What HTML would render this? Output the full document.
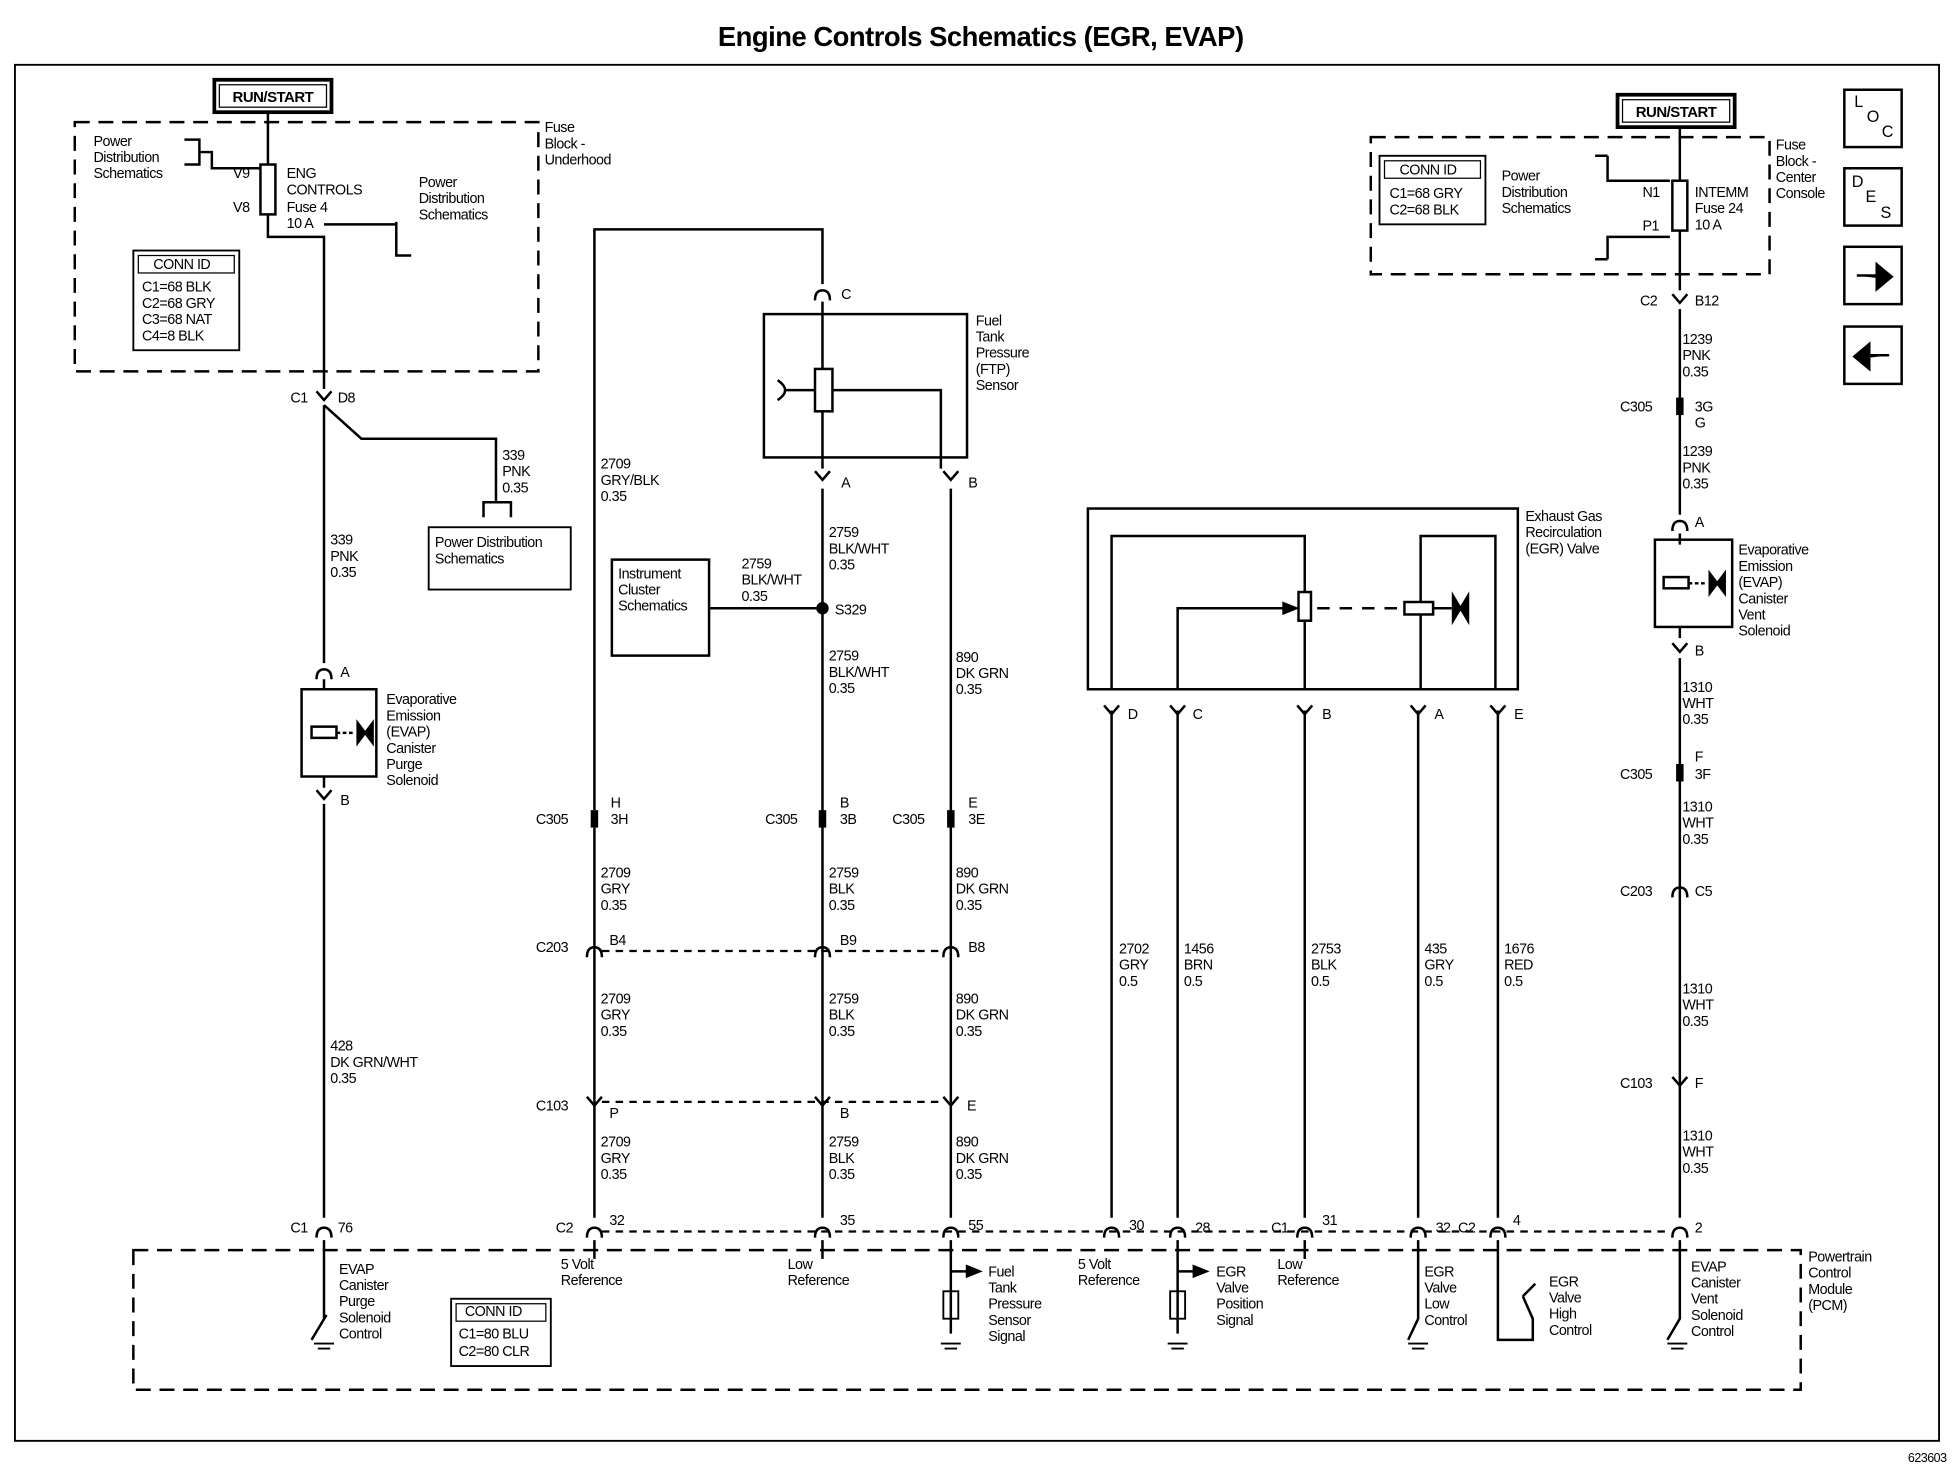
<!DOCTYPE html>
<html><head><meta charset="utf-8"><style>
html,body{margin:0;padding:0;background:#fff;}
svg{display:block;}
text{font-family:"Liberation Sans",Arial,sans-serif;font-size:11.5px;fill:#000;letter-spacing:-0.4px;}
.b{font-weight:bold;}
</style></head><body>
<svg width="1954" height="1472" viewBox="0 0 1568 1181" preserveAspectRatio="none" xmlns="http://www.w3.org/2000/svg">
<defs>
<g id="cn"><path d="M-6,5 Q-6,-3 0,-3 Q6,-3 6,5" fill="none" stroke="#000" stroke-width="2"/></g>
<g id="cv"><path d="M-6,-4 L0,3 L6,-4" fill="none" stroke="#000" stroke-width="2"/></g>
<g id="ib"><rect x="-3" y="-7" width="6" height="14" fill="#000"/></g>
</defs>
<g fill="none" stroke="#000" stroke-width="2">
<rect x="12" y="52" width="1544" height="1104" stroke-width="1.5"/>
<rect x="172" y="64" width="94" height="26" stroke-width="3"/>
<rect x="176" y="68" width="86" height="18" stroke-width="1"/>
<rect x="60" y="98" width="372" height="200" stroke-dasharray="12,7"/>
<path d="M215,90 V132 M215,172 V190 H260 V312"/>
<rect x="209" y="132" width="12" height="40"/>
<path d="M148,112 H160 V132 H148 M160,122 H170 V135 H209 M260,180 H318 M318,178 V205 H330"/>
<rect x="107" y="201" width="85" height="80" stroke-width="1.5"/>
<rect x="111" y="205" width="77" height="14" stroke-width="1"/>
<path d="M260,325 L290,352 H398 V403 M388,415 V403 H410 V415 M260,325 V532"/>
<rect x="344" y="423" width="114" height="50" stroke-width="1.5"/>
<rect x="242" y="553" width="60" height="70" stroke-width="2"/>
<path d="M260,545 V553 M260,623 V632 M260,645 V977"/>
<rect x="250" y="583" width="20" height="9"/>
<path d="M270,588 H283" stroke-dasharray="3,2"/>
<path d="M287,580 L299,596 V580 L287,596 Z" fill="#000"/>
<path d="M477,650 V184 H660 V228 M477,664 V977"/>
<rect x="613" y="252" width="163" height="115" stroke-width="2"/>
<path d="M660,242 V296 M660,330 V376 M668,313 H755 V376 M624,305 Q636,313 624,321 M630,313 H654"/>
<rect x="654" y="296" width="14" height="34"/>
<path d="M660,392 V977 M763,392 V977"/>
<rect x="491" y="449" width="78" height="77" stroke-width="2"/>
<path d="M569,488 H660"/>
<path d="M483,763 H757 M483,884 H757 M483,988 H1340" stroke-dasharray="6,5" stroke-width="1.8"/>
<rect x="873" y="408" width="345" height="145" stroke-width="2"/>
<path d="M892,553 V430 H1047 V475 M1047,498 V553 M945,553 V488 H1035 M1140,553 V493 M1140,483 V430 H1200 V553"/>
<path d="M1030,484 L1040,488 L1030,492 Z" fill="#000"/>
<rect x="1042" y="475" width="10" height="23"/>
<path d="M1057,488 H1125" stroke-dasharray="10,8"/>
<rect x="1127" y="483" width="23" height="10"/>
<path d="M1150,488 H1165"/>
<path d="M1166,478 L1178,498 V478 L1166,498 Z" fill="#000"/>
<path d="M892,570 V977 M945,570 V977 M1047,570 V977 M1138,570 V977 M1202,570 V977"/>
<rect x="1298" y="76" width="94" height="26" stroke-width="3"/>
<rect x="1302" y="80" width="86" height="18" stroke-width="1"/>
<rect x="1100" y="110" width="320" height="110" stroke-dasharray="12,7"/>
<rect x="1107" y="125" width="85" height="55" stroke-width="1.5"/>
<rect x="1111" y="129" width="77" height="14" stroke-width="1"/>
<path d="M1348,102 V145 M1348,185 V233 M1290,125 V145 H1340 M1290,208 V190 H1340 M1280,208 H1290 M1280,125 H1290"/>
<rect x="1342" y="145" width="12" height="40"/>
<path d="M1348,248 V413 M1348,428 V437 M1348,503 V512 M1348,528 V977"/>
<rect x="1328" y="433" width="62" height="70" stroke-width="2"/>
<rect x="1335" y="463" width="20" height="9"/>
<path d="M1355,468 H1368" stroke-dasharray="3,2"/>
<path d="M1372,460 L1384,476 V460 L1372,476 Z" fill="#000"/>
<rect x="1480" y="72" width="46" height="46" stroke-width="2"/>
<rect x="1480" y="135" width="46" height="46" stroke-width="2"/>
<rect x="1480" y="198" width="46" height="46" stroke-width="2"/>
<rect x="1480" y="262" width="46" height="46" stroke-width="2"/>
<path d="M1490,221 H1506 V212 L1518,222 L1506,232 V223" fill="#000"/>
<path d="M1516,285 H1500 V276 L1488,286 L1500,296 V287" fill="#000"/>
<rect x="107" y="1003" width="1338" height="112" stroke-dasharray="12,7"/>
<path d="M260,995 V1058"/>
<path d="M250,1075 L262,1055"/>
<path d="M477,995 V1010 M660,995 V1010 M763,995 V1070 M763,1020 H778 M945,995 V1070 M945,1020 H960 M1047,995 V1010 M1138,995 V1058 L1130,1075 M1202,995 V1075 H1230 V1058 L1222,1040 M1348,995 V1058 L1338,1075"/>
<rect x="757" y="1036" width="12" height="22" stroke-width="1.5"/>
<rect x="939" y="1036" width="12" height="22" stroke-width="1.5"/>
<path d="M776,1016 L786,1020 L776,1024 Z M958,1016 L968,1020 L958,1024 Z M1222,1040 L1232,1030" fill="#000"/>
<rect x="362" y="1042" width="80" height="54" stroke-width="1.5"/>
<rect x="366" y="1046" width="72" height="14" stroke-width="1"/>
<path d="M252,1078 H268 M255,1082 H265 M755,1078 H771 M758,1082 H768 M937,1078 H953 M940,1082 H950 M1130,1078 H1146 M1133,1082 H1143 M1338,1078 H1354 M1341,1082 H1351" stroke-width="1.5"/>
</g>
<use href="#cv" x="260" y="318"/>
<use href="#cn" x="260" y="540"/><use href="#cv" x="260" y="638"/>
<use href="#cn" x="260" y="988"/>
<use href="#cn" x="660" y="236"/><use href="#cv" x="660" y="382"/><use href="#cv" x="763" y="382"/>
<use href="#ib" x="477" y="657"/><use href="#ib" x="660" y="657"/><use href="#ib" x="763" y="657"/>
<use href="#cn" x="477" y="763"/><use href="#cn" x="660" y="763"/><use href="#cn" x="763" y="763"/>
<use href="#cv" x="477" y="884"/><use href="#cv" x="660" y="884"/><use href="#cv" x="763" y="884"/>
<use href="#cn" x="477" y="988"/><use href="#cn" x="660" y="988"/><use href="#cn" x="763" y="988"/>
<use href="#cv" x="892" y="570"/><use href="#cv" x="945" y="570"/><use href="#cv" x="1047" y="570"/><use href="#cv" x="1138" y="570"/><use href="#cv" x="1202" y="570"/>
<use href="#cn" x="892" y="988"/><use href="#cn" x="945" y="988"/><use href="#cn" x="1047" y="988"/><use href="#cn" x="1138" y="988"/><use href="#cn" x="1202" y="988"/><use href="#cn" x="1348" y="988"/>
<use href="#cv" x="1348" y="240"/><use href="#ib" x="1348" y="326"/><use href="#cn" x="1348" y="421"/><use href="#cv" x="1348" y="520"/>
<use href="#ib" x="1348" y="620"/><use href="#cn" x="1348" y="715"/><use href="#cv" x="1348" y="868"/>
<circle cx="660" cy="488" r="5" fill="#000"/>
<text x="787" y="37" text-anchor="middle" class="b" style="font-size:22px">Engine Controls Schematics (EGR, EVAP)</text>
<text x="1562" y="1173" text-anchor="end" style="font-size:10px">623603</text>
<text x="219" y="82" text-anchor="middle" class="b" style="font-size:12px">RUN/START</text>
<text x="1345" y="94" text-anchor="middle" class="b" style="font-size:12px">RUN/START</text>
<text x="437" y="106">Fuse</text><text x="437" y="119">Block -</text><text x="437" y="132">Underhood</text>
<text x="75" y="117">Power</text><text x="75" y="130">Distribution</text><text x="75" y="143">Schematics</text>
<text x="187" y="143">V9</text><text x="187" y="170">V8</text>
<text x="230" y="143">ENG</text><text x="230" y="156">CONTROLS</text><text x="230" y="170">Fuse 4</text><text x="230" y="183">10 A</text>
<text x="336" y="150">Power</text><text x="336" y="163">Distribution</text><text x="336" y="176">Schematics</text>
<text x="123" y="216">CONN ID</text>
<text x="114" y="234">C1=68 BLK</text><text x="114" y="247">C2=68 GRY</text><text x="114" y="260">C3=68 NAT</text><text x="114" y="273">C4=8 BLK</text>
<text x="233" y="323">C1</text><text x="271" y="323">D8</text>
<text x="403" y="369">339</text><text x="403" y="382">PNK</text><text x="403" y="395">0.35</text>
<text x="349" y="439">Power Distribution</text><text x="349" y="452">Schematics</text>
<text x="265" y="437">339</text><text x="265" y="450">PNK</text><text x="265" y="463">0.35</text>
<text x="273" y="543">A</text><text x="273" y="646">B</text>
<text x="310" y="565">Evaporative</text><text x="310" y="578">Emission</text><text x="310" y="591">(EVAP)</text><text x="310" y="604">Canister</text><text x="310" y="617">Purge</text><text x="310" y="630">Solenoid</text>
<text x="265" y="843">428</text><text x="265" y="856">DK GRN/WHT</text><text x="265" y="869">0.35</text>
<text x="233" y="989">C1</text><text x="271" y="989">76</text>
<text x="482" y="376">2709</text><text x="482" y="389">GRY/BLK</text><text x="482" y="402">0.35</text>
<text x="675" y="240">C</text><text x="675" y="391">A</text><text x="777" y="391">B</text>
<text x="783" y="261">Fuel</text><text x="783" y="274">Tank</text><text x="783" y="287">Pressure</text><text x="783" y="300">(FTP)</text><text x="783" y="313">Sensor</text>
<text x="665" y="431">2759</text><text x="665" y="444">BLK/WHT</text><text x="665" y="457">0.35</text>
<text x="595" y="456">2759</text><text x="595" y="469">BLK/WHT</text><text x="595" y="482">0.35</text>
<text x="496" y="464">Instrument</text><text x="496" y="477">Cluster</text><text x="496" y="490">Schematics</text>
<text x="670" y="493">S329</text>
<text x="665" y="530">2759</text><text x="665" y="543">BLK/WHT</text><text x="665" y="556">0.35</text>
<text x="767" y="531">890</text><text x="767" y="544">DK GRN</text><text x="767" y="557">0.35</text>
<text x="430" y="661">C305</text><text x="490" y="648">H</text><text x="490" y="661">3H</text>
<text x="614" y="661">C305</text><text x="674" y="648">B</text><text x="674" y="661">3B</text>
<text x="716" y="661">C305</text><text x="777" y="648">E</text><text x="777" y="661">3E</text>
<text x="482" y="704">2709</text><text x="482" y="717">GRY</text><text x="482" y="730">0.35</text>
<text x="665" y="704">2759</text><text x="665" y="717">BLK</text><text x="665" y="730">0.35</text>
<text x="767" y="704">890</text><text x="767" y="717">DK GRN</text><text x="767" y="730">0.35</text>
<text x="430" y="764">C203</text><text x="489" y="758">B4</text><text x="674" y="758">B9</text><text x="777" y="764">B8</text>
<text x="482" y="805">2709</text><text x="482" y="818">GRY</text><text x="482" y="831">0.35</text>
<text x="665" y="805">2759</text><text x="665" y="818">BLK</text><text x="665" y="831">0.35</text>
<text x="767" y="805">890</text><text x="767" y="818">DK GRN</text><text x="767" y="831">0.35</text>
<text x="430" y="891">C103</text><text x="489" y="897">P</text><text x="674" y="897">B</text><text x="776" y="891">E</text>
<text x="482" y="920">2709</text><text x="482" y="933">GRY</text><text x="482" y="946">0.35</text>
<text x="665" y="920">2759</text><text x="665" y="933">BLK</text><text x="665" y="946">0.35</text>
<text x="767" y="920">890</text><text x="767" y="933">DK GRN</text><text x="767" y="946">0.35</text>
<text x="446" y="989">C2</text><text x="489" y="983">32</text><text x="674" y="983">35</text><text x="777" y="987">55</text>
<text x="906" y="987">30</text><text x="959" y="989">28</text><text x="1020" y="989">C1</text><text x="1061" y="983">31</text>
<text x="1152" y="989">32</text><text x="1170" y="989">C2</text><text x="1214" y="983">4</text><text x="1360" y="989">2</text>
<text x="1224" y="418">Exhaust Gas</text><text x="1224" y="431">Recirculation</text><text x="1224" y="444">(EGR) Valve</text>
<text x="905" y="577">D</text><text x="957" y="577">C</text><text x="1061" y="577">B</text><text x="1151" y="577">A</text><text x="1215" y="577">E</text>
<text x="898" y="765">2702</text><text x="898" y="778">GRY</text><text x="898" y="791">0.5</text>
<text x="950" y="765">1456</text><text x="950" y="778">BRN</text><text x="950" y="791">0.5</text>
<text x="1052" y="765">2753</text><text x="1052" y="778">BLK</text><text x="1052" y="791">0.5</text>
<text x="1143" y="765">435</text><text x="1143" y="778">GRY</text><text x="1143" y="791">0.5</text>
<text x="1207" y="765">1676</text><text x="1207" y="778">RED</text><text x="1207" y="791">0.5</text>
<text x="1425" y="120">Fuse</text><text x="1425" y="133">Block -</text><text x="1425" y="146">Center</text><text x="1425" y="159">Console</text>
<text x="1123" y="140">CONN ID</text><text x="1115" y="159">C1=68 GRY</text><text x="1115" y="172">C2=68 BLK</text>
<text x="1205" y="145">Power</text><text x="1205" y="158">Distribution</text><text x="1205" y="171">Schematics</text>
<text x="1318" y="158">N1</text><text x="1318" y="185">P1</text>
<text x="1360" y="158">INTEMM</text><text x="1360" y="171">Fuse 24</text><text x="1360" y="184">10 A</text>
<text x="1316" y="245">C2</text><text x="1360" y="245">B12</text>
<text x="1350" y="276">1239</text><text x="1350" y="289">PNK</text><text x="1350" y="302">0.35</text>
<text x="1300" y="330">C305</text><text x="1360" y="330">3G</text><text x="1360" y="343">G</text>
<text x="1350" y="366">1239</text><text x="1350" y="379">PNK</text><text x="1350" y="392">0.35</text>
<text x="1360" y="423">A</text><text x="1360" y="526">B</text>
<text x="1395" y="445">Evaporative</text><text x="1395" y="458">Emission</text><text x="1395" y="471">(EVAP)</text><text x="1395" y="484">Canister</text><text x="1395" y="497">Vent</text><text x="1395" y="510">Solenoid</text>
<text x="1350" y="555">1310</text><text x="1350" y="568">WHT</text><text x="1350" y="581">0.35</text>
<text x="1300" y="625">C305</text><text x="1360" y="611">F</text><text x="1360" y="625">3F</text>
<text x="1350" y="651">1310</text><text x="1350" y="664">WHT</text><text x="1350" y="677">0.35</text>
<text x="1300" y="719">C203</text><text x="1360" y="719">C5</text>
<text x="1350" y="797">1310</text><text x="1350" y="810">WHT</text><text x="1350" y="823">0.35</text>
<text x="1300" y="873">C103</text><text x="1360" y="873">F</text>
<text x="1350" y="915">1310</text><text x="1350" y="928">WHT</text><text x="1350" y="941">0.35</text>
<text x="1451" y="1012">Powertrain</text><text x="1451" y="1025">Control</text><text x="1451" y="1038">Module</text><text x="1451" y="1051">(PCM)</text>
<text x="272" y="1022">EVAP</text><text x="272" y="1035">Canister</text><text x="272" y="1048">Purge</text><text x="272" y="1061">Solenoid</text><text x="272" y="1074">Control</text>
<text x="373" y="1056">CONN ID</text><text x="368" y="1074">C1=80 BLU</text><text x="368" y="1088">C2=80 CLR</text>
<text x="450" y="1018">5 Volt</text><text x="450" y="1031">Reference</text>
<text x="632" y="1018">Low</text><text x="632" y="1031">Reference</text>
<text x="793" y="1024">Fuel</text><text x="793" y="1037">Tank</text><text x="793" y="1050">Pressure</text><text x="793" y="1063">Sensor</text><text x="793" y="1076">Signal</text>
<text x="865" y="1018">5 Volt</text><text x="865" y="1031">Reference</text>
<text x="976" y="1024">EGR</text><text x="976" y="1037">Valve</text><text x="976" y="1050">Position</text><text x="976" y="1063">Signal</text>
<text x="1025" y="1018">Low</text><text x="1025" y="1031">Reference</text>
<text x="1143" y="1024">EGR</text><text x="1143" y="1037">Valve</text><text x="1143" y="1050">Low</text><text x="1143" y="1063">Control</text>
<text x="1243" y="1032">EGR</text><text x="1243" y="1045">Valve</text><text x="1243" y="1058">High</text><text x="1243" y="1071">Control</text>
<text x="1357" y="1020">EVAP</text><text x="1357" y="1033">Canister</text><text x="1357" y="1046">Vent</text><text x="1357" y="1059">Solenoid</text><text x="1357" y="1072">Control</text>
<text x="1488" y="86" style="font-size:13px">L</text><text x="1498" y="98" style="font-size:13px">O</text><text x="1510" y="110" style="font-size:13px">C</text>
<text x="1486" y="150" style="font-size:13px">D</text><text x="1497" y="162" style="font-size:13px">E</text><text x="1509" y="175" style="font-size:13px">S</text>
</svg>
</body></html>
